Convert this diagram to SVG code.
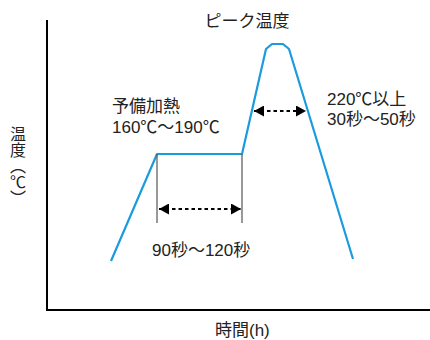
<svg xmlns="http://www.w3.org/2000/svg" width="430" height="340" viewBox="0 0 430 340">
<style>
text{font-family:"Liberation Sans","Noto Sans CJK JP",sans-serif;font-size:17px;fill:#222}
.curve{fill:none;stroke:#1a9be0;stroke-width:2.2;stroke-linejoin:round}
.guide{stroke:#555;stroke-width:1.2}
.dots{stroke:#000;stroke-width:2.2;stroke-dasharray:3.5 3}
.axis{stroke:#000;stroke-width:2;fill:none}
</style>
<defs>
<marker id="ah" viewBox="0 0 10 10" refX="10" refY="5" markerWidth="10" markerHeight="11" markerUnits="userSpaceOnUse" orient="auto-start-reverse" preserveAspectRatio="none"><path d="M0,0L10,5L0,10z" fill="#000"/></marker>
</defs>
<g id="axes"><path class="axis" d="M47,20V310H430"/></g>
<g id="connectors">
<path class="curve" d="M111,261L157,154H242L266,49L272,44H283L289,49L353,259"/>
<line class="guide" x1="157" y1="154" x2="157" y2="223"/>
<line class="guide" x1="242" y1="154" x2="242" y2="223"/>
<line class="dots" x1="159" y1="209" x2="241" y2="209" marker-start="url(#ah)" marker-end="url(#ah)"/>
<line class="dots" x1="254" y1="111" x2="306" y2="111" marker-start="url(#ah)" marker-end="url(#ah)"/>
</g>
<g id="peak"><text x="247" y="27" text-anchor="middle">ピーク温度</text></g>
<g id="preheat"><text x="112" y="112">予備加熱</text><text x="112" y="133">160℃〜190℃</text></g>
<g id="above220"><text x="327" y="105">220℃以上</text><text x="327" y="125">30秒〜50秒</text></g>
<g id="duration"><text x="152" y="256">90秒〜120秒</text></g>
<g id="xlabel"><text x="215" y="336">時間(h)</text></g>
<g id="ylabel"><text x="18" y="126" style="writing-mode:vertical-rl;font-family:'Noto Sans CJK JP',sans-serif;font-size:16px">温度（℃）</text></g>
</svg>
